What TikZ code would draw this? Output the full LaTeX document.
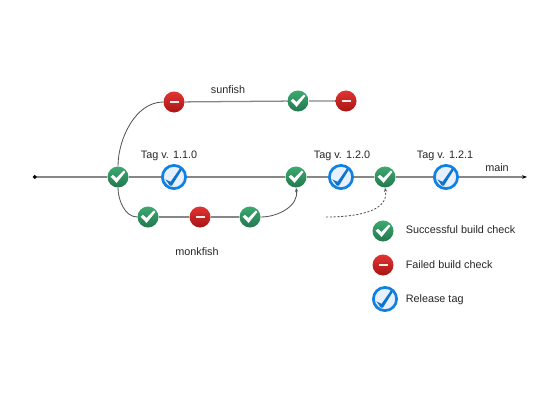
\documentclass[tikz,border=0pt]{standalone}
\usepackage{fontspec}
\setmainfont{Liberation Sans}
\usetikzlibrary{arrows.meta, shadows}

\definecolor{CheckGreenTop}{RGB}{62, 170, 112}
\definecolor{CheckGreenLow}{RGB}{34, 120, 78}
\definecolor{FailRedTop}{RGB}{226, 52, 50}
\definecolor{FailRedLow}{RGB}{168, 20, 20}
\definecolor{TagBlue}{RGB}{16, 128, 226}
\definecolor{TagFill}{RGB}{230, 240, 254}
\definecolor{LineGrey}{RGB}{135, 135, 135}
\definecolor{CurveGrey}{RGB}{85, 85, 85}

\tikzset{
	passcheck/.style={circle, minimum size=0.525cm, inner sep=0pt, top color=CheckGreenTop, bottom color=CheckGreenLow,
		path picture={\fill[white, x=1pt, y=1pt, shift={(path picture bounding box.center)}] (-5.2,0.2) -- (-3.6,1.6) -- (-1.2,-0.7) -- (4.2,4.6) -- (5.3,3.6) -- (-1.0,-4.2) -- cycle;}},
	failcheck/.style={circle, minimum size=0.525cm, inner sep=0pt, top color=FailRedTop, bottom color=FailRedLow,
		path picture={\draw[white!85!gray, line width=1.7pt, x=1pt, y=1pt, shift={(path picture bounding box.center)}] (-3.2,0) -- (3.2,0);}},
	releasetag/.style={circle, minimum size=0.58cm, inner sep=0pt, draw=TagBlue, line width=1.9pt, fill=TagFill,
		drop shadow={shadow xshift=-0.7pt, shadow yshift=-0.7pt, opacity=0.4, fill=black},
		path picture={\fill[TagBlue!90!black, x=1pt, y=1pt, shift={(path picture bounding box.center)}] (-6.2,-1.6) -- (-5.2,-2.2) -- (-2.4,-3.4) -- (4.6,6.6) -- (6.0,5.8) -- (-1.5,-6.2) -- (-2.9,-6.2) -- cycle;}},
	branchline/.style={draw=LineGrey, line width=0.9pt},
	curveline/.style={draw=CurveGrey, line width=0.6pt},
	nametext/.style={font=\fontsize{7.7}{9}\selectfont, text=black!85},
}

\begin{document}
\begin{tikzpicture}[x=0.025cm, y=-0.025cm]
	\useasboundingbox (0,0) rectangle (560,420);

	% main line
	\coordinate (mainstart) at (33,177);
	\coordinate (mainend) at (527,177);
	\node[passcheck] (mainA) at (118,177) {};
	\node[releasetag] (tagA) at (174,177) {};
	\node[passcheck] (mainB) at (296,177) {};
	\node[releasetag] (tagB) at (341,177) {};
	\node[passcheck] (mainC) at (385,177) {};
	\node[releasetag] (tagC) at (446,177) {};

	% sunfish
	\node[failcheck] (sunA) at (174,102) {};
	\node[passcheck] (sunB) at (298,101) {};
	\node[failcheck] (sunC) at (346,101) {};

	% monkfish
	\node[passcheck] (monkA) at (148,217) {};
	\node[failcheck] (monkB) at (200,217) {};
	\node[passcheck] (monkC) at (250,217) {};

	% legend
	\node[passcheck] (keyPass) at (383,231) {};
	\node[failcheck] (keyFail) at (383,265) {};
	\node[releasetag] (keyTag) at (385,299) {};

	\node[nametext] (nameSun) at (228,89.5) {sunfish};
	\node[nametext] (nameMonk) at (197,251.5) {monkfish};
	\node[nametext] (nameMain) at (497,167.5) {main};
	\node[nametext] (nameTagA) at (169,155.5) {Tag v. 1.1.0};
	\node[nametext] (nameTagB) at (342,155.5) {Tag v. 1.2.0};
	\node[nametext] (nameTagC) at (445,155.5) {Tag v. 1.2.1};
	\node[nametext, anchor=west, inner sep=0pt] (textPass) at (405.5,229.5) {Successful build check};
	\node[nametext, anchor=west, inner sep=0pt] (textFail) at (405.5,265) {Failed build check};
	\node[nametext, anchor=west, inner sep=0pt] (textTag) at (405.5,299.5) {Release tag};

	\draw[branchline, {Circle[length=2.6pt, black]}-] (mainstart) -- (mainA);
	\draw[branchline] (mainA) -- (tagA) -- (mainB) -- (tagB) -- (mainC) -- (tagC);
	\draw[branchline, -{Stealth[length=3.5pt, black]}] (tagC) -- (mainend);
	\draw[curveline] (mainA.north) to[out=90, in=180, looseness=0.9] (sunA.west);
	\draw[branchline] (sunA) -- (sunB) -- (sunC);
	\draw[curveline] (mainA.south) to[out=270, in=180, looseness=0.9] (monkA.west);
	\draw[branchline] (monkA) -- (monkB) -- (monkC);
	\draw[curveline, -{Stealth[length=3pt]}] (monkC.east) to[out=0, in=-80] (mainB.south);

	\coordinate (dashstart) at (326,217);
	\draw[curveline, dash pattern=on 1.5pt off 1.2pt, -{Stealth[length=3pt]}] (dashstart) to[out=0, in=-80] (mainC.south);
\end{tikzpicture}
\end{document}
